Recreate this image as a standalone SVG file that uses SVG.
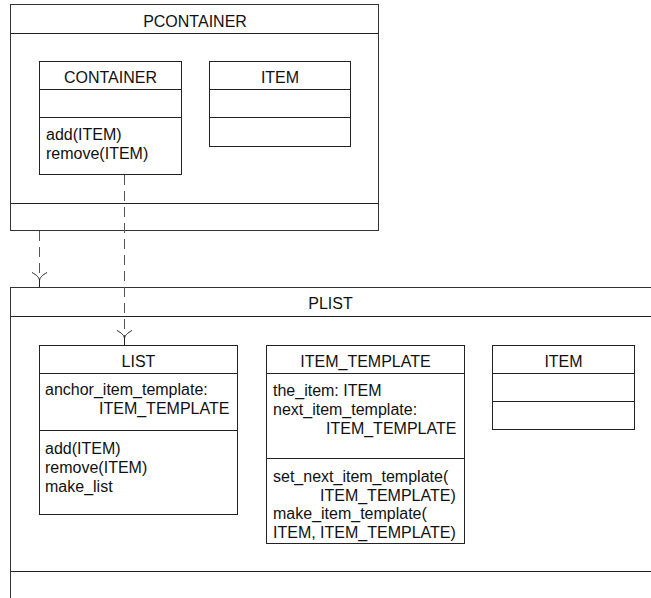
<svg xmlns="http://www.w3.org/2000/svg" width="651" height="598" viewBox="0 0 651 598">
<style>
  .box { fill: none; stroke: #222; stroke-width: 1; }
  .pkg { fill: #fff; stroke: #333; stroke-width: 1; }
  .div { stroke: #222; stroke-width: 1; }
  text { font-family: "Liberation Sans", Arial, sans-serif; font-size: 16px; fill: #111; }
  .c { text-anchor: middle; }
  .dep { fill: none; stroke: #555; stroke-width: 1; stroke-dasharray: 10 6; }
  .head { fill: none; stroke: #222; stroke-width: 1; }
</style>
<defs>
  <path id="arrowhead" class="head" d="M -7.5,-14.5 C -3,-12 0,-9.5 0,-6 L 0,0 M 7.5,-14.5 C 3,-12 0,-9.5 0,-6"/>
</defs>
<rect width="651" height="598" fill="#fff"/>

<g id="pcontainer">
  <rect class="pkg" x="10.5" y="4.5" width="368" height="226"/>
  <line class="div" x1="10.5" y1="33.5" x2="378.5" y2="33.5"/>
  <line class="div" x1="10.5" y1="203.5" x2="378.5" y2="203.5"/>
  <text class="c" x="195" y="26.5">PCONTAINER</text>
</g>

<g id="container">
  <rect class="box" x="39.5" y="61.5" width="142" height="113"/>
  <line class="div" x1="39.5" y1="89.5" x2="181.5" y2="89.5"/>
  <line class="div" x1="39.5" y1="117.5" x2="181.5" y2="117.5"/>
  <text class="c" x="110.5" y="82.5">CONTAINER</text>
  <text x="46" y="140">add(ITEM)</text>
  <text x="46" y="158.5">remove(ITEM)</text>
</g>

<g id="item-pcontainer">
  <rect class="box" x="209.5" y="61.5" width="141" height="85"/>
  <line class="div" x1="209.5" y1="89.5" x2="350.5" y2="89.5"/>
  <line class="div" x1="209.5" y1="117.5" x2="350.5" y2="117.5"/>
  <text class="c" x="280" y="82.5">ITEM</text>
</g>

<g id="plist">
  <rect class="pkg" x="10.5" y="287.5" width="700" height="400"/>
  <line class="div" x1="10.5" y1="316.5" x2="651" y2="316.5"/>
  <line class="div" x1="10.5" y1="571.5" x2="651" y2="571.5"/>
  <text class="c" x="330.5" y="309">PLIST</text>
</g>

<g id="list">
  <rect class="box" x="39.5" y="345.5" width="198" height="169"/>
  <line class="div" x1="39.5" y1="373.5" x2="237.5" y2="373.5"/>
  <line class="div" x1="39.5" y1="430.5" x2="237.5" y2="430.5"/>
  <text class="c" x="138.5" y="367">LIST</text>
  <text x="45" y="395">anchor_item_template:</text>
  <text x="99" y="413.5">ITEM_TEMPLATE</text>
  <text x="45" y="454">add(ITEM)</text>
  <text x="45" y="473">remove(ITEM)</text>
  <text x="45" y="491.5">make_list</text>
</g>

<g id="item-template">
  <rect class="box" x="266.5" y="345.5" width="198" height="198"/>
  <line class="div" x1="266.5" y1="373.5" x2="464.5" y2="373.5"/>
  <line class="div" x1="266.5" y1="458.5" x2="464.5" y2="458.5"/>
  <text class="c" x="365.5" y="366.5">ITEM_TEMPLATE</text>
  <text x="273" y="396">the_item: ITEM</text>
  <text x="273" y="415">next_item_template:</text>
  <text x="326" y="433.5">ITEM_TEMPLATE</text>
  <text x="273" y="482">set_next_item_template(</text>
  <text x="320" y="500.5">ITEM_TEMPLATE)</text>
  <text x="273" y="519">make_item_template(</text>
  <text x="273" y="537.5">ITEM, ITEM_TEMPLATE)</text>
</g>

<g id="item-plist">
  <rect class="box" x="492.5" y="345.5" width="142" height="84"/>
  <line class="div" x1="492.5" y1="373.5" x2="634.5" y2="373.5"/>
  <line class="div" x1="492.5" y1="401.5" x2="634.5" y2="401.5"/>
  <text class="c" x="563.5" y="366.5">ITEM</text>
</g>

<g id="connectors">
  <line class="dep" x1="39.5" y1="231" x2="39.5" y2="281"/>
  <use href="#arrowhead" x="39.5" y="287"/>
  <line class="dep" x1="124.5" y1="175" x2="124.5" y2="338"/>
  <use href="#arrowhead" x="124.5" y="345"/>
</g>
</svg>
